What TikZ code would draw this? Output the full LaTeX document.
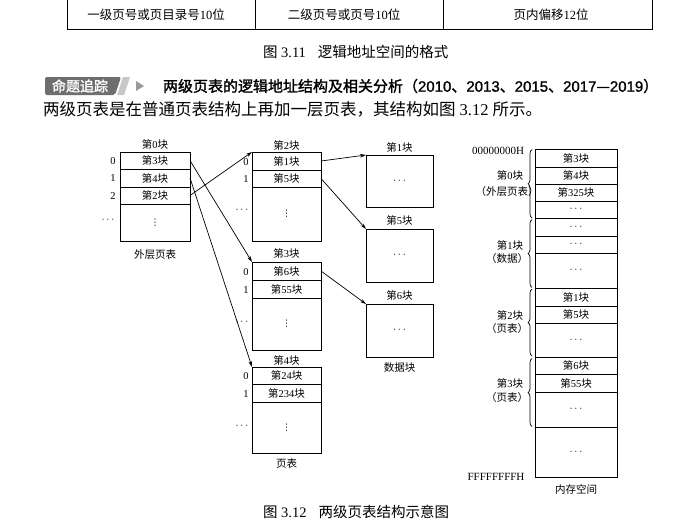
\documentclass[tikz,border=0pt]{standalone}
\usepackage{fontspec}
\setmainfont{Liberation Serif}
\newfontfamily\cjk{Noto Sans CJK SC}
\newfontfamily\cjkb{Noto Sans CJK SC}[FakeBold=1.6]
\newfontfamily\latsans{Liberation Sans}[FakeBold=1.2]
\newfontfamily\symf{DejaVu Sans}
\usetikzlibrary{arrows.meta,decorations.pathreplacing}
\newcommand\zh[1]{{\cjk #1}}
\newcommand\zhb[1]{{\cjkb #1}}
\newcommand\blk[1]{\zh{第}#1\zh{块}}
\newcommand\vdts{{\symf\fontsize{9}{10}\selectfont ⋮}}
\definecolor{badgegray}{HTML}{6E6E6E}
\definecolor{lightbar}{HTML}{C8C8C8}
\definecolor{trigray}{HTML}{9A9A9A}
\begin{document}
\begin{tikzpicture}[x=1pt,y=-1pt,
  every node/.style={inner sep=0pt,outer sep=0pt},
  lbl/.style={font=\fontsize{10.5}{12}\selectfont},
  cell/.style={draw,line width=0.75pt,lbl,anchor=center},
  idx/.style={font=\fontsize{10.5}{12}\selectfont},
  arr/.style={-{Stealth[length=6pt,width=3.6pt]},line width=0.7pt},
  brc/.style={decorate,decoration={brace,amplitude=4pt},line width=0.7pt},
  tline/.style={line width=0.9pt},
  tabtxt/.style={font=\fontsize{12.5}{14}\selectfont},
  figcap/.style={font=\fontsize{14.5}{16}\selectfont}]
\useasboundingbox[fill=white] (0,0) rectangle (692,528);

% ---------- top table (partial) ----------
\draw[tline] (67,0) -- (67,29) -- (652,29) -- (652,0);
\draw[tline] (255,0) -- (255,29);
\draw[tline] (443,0) -- (443,29);
\node[tabtxt] (t1) at (156,15) {\zh{一级页号或页目录号}10\zh{位}};
\node[tabtxt] (t2) at (344,15) {\zh{二级页号或页号}10\zh{位}};
\node[tabtxt] (t3) at (551,15) {\zh{页内偏移}12\zh{位}};
\node[figcap,anchor=west] (c1) at (263,52) {\zh{图} 3.11\hspace{12pt}\zh{逻辑地址空间的格式}};

% ---------- heading ----------
\fill[badgegray,rounded corners=2pt] (45,77) -- (121,77) -- (115,95) -- (45,95) -- cycle;
\node[font=\fontsize{14}{16}\selectfont,text=white] (badge) at (80,86) {\zhb{命题追踪}};
\fill[lightbar] (123,77) -- (130,77) -- (124,95) -- (117,95) -- cycle;
\fill[trigray] (136,81) -- (144,86) -- (136,91) -- cycle;
\node[font=\fontsize{15}{17}\selectfont,anchor=west] (head) at (163,86)
  {\zhb{两级页表的逻辑地址结构及相关分析（}\latsans 2010\zhb{、}2013\zhb{、}2015\zhb{、}2017\zhb{—}2019\zhb{）}};
\node[font=\fontsize{16.5}{18}\selectfont,anchor=west] (para) at (43,109)
  {\zh{两级页表是在普通页表结构上再加一层页表，其结构如图} 3.12 \zh{所示。}};

% ---------- outer page table ----------
\node[lbl] (h0) at (155,144) {\blk{0}};
\node[cell,minimum width=70pt,minimum height=17pt] (o0) at (155,160.5) {\blk{3}};
\node[cell,minimum width=70pt,minimum height=18pt] (o1) at (155,178) {\blk{4}};
\node[cell,minimum width=70pt,minimum height=17pt] (o2) at (155,195.5) {\blk{2}};
\node[cell,minimum width=70pt,minimum height=37pt] (o3) at (155,222.5) {\vdts};
\node[idx] (oi0) at (113,161) {0};
\node[idx] (oi1) at (113,178) {1};
\node[idx] (oi2) at (113,196) {2};
\node[idx] (oi3) at (108,220) {$\cdots$};
\node[lbl] (olab) at (155,255) {\zh{外层页表}};

% ---------- page table block 2 ----------
\node[lbl] (h2) at (286.5,145) {\blk{2}};
\node[cell,minimum width=69pt,minimum height=18pt] (a0) at (286.5,161) {\blk{1}};
\node[cell,minimum width=69pt,minimum height=17pt] (a1) at (286.5,178.5) {\blk{5}};
\node[cell,minimum width=69pt,minimum height=54pt] (a2) at (286.5,214) {\vdts};
\node[idx] (ai0) at (246,162) {0};
\node[idx] (ai1) at (246,179) {1};
\node[idx] (ai2) at (242,210) {$\cdots$};

% ---------- page table block 3 ----------
\node[lbl] (h3) at (286.5,253) {\blk{3}};
\node[cell,minimum width=69pt,minimum height=18pt] (b0) at (286.5,271) {\blk{6}};
\node[cell,minimum width=69pt,minimum height=18pt] (b1) at (286.5,289) {\blk{55}};
\node[cell,minimum width=69pt,minimum height=52pt] (b2) at (286.5,324) {\vdts};
\node[idx] (bi0) at (246,272) {0};
\node[idx] (bi1) at (246,290) {1};
\node[idx] (bi2) at (242,322) {$\cdots$};

% ---------- page table block 4 ----------
\node[lbl] (h4) at (286.5,360) {\blk{4}};
\node[cell,minimum width=69pt,minimum height=17pt] (c0) at (286.5,375.5) {\blk{24}};
\node[cell,minimum width=69pt,minimum height=18pt] (c1) at (286.5,393) {\blk{234}};
\node[cell,minimum width=69pt,minimum height=51pt] (c2) at (286.5,427.5) {\vdts};
\node[idx] (ci0) at (246,376) {0};
\node[idx] (ci1) at (246,394) {1};
\node[idx] (ci2) at (242,426) {$\cdots$};
\node[lbl] (plab) at (286.5,464) {\zh{页表}};

% ---------- data blocks ----------
\node[lbl] (hd1) at (399.5,147) {\blk{1}};
\node[cell,minimum width=67pt,minimum height=52pt] (d1) at (399.5,181) {$\cdots$};
\node[lbl] (hd5) at (399.5,220) {\blk{5}};
\node[cell,minimum width=67pt,minimum height=53pt] (d5) at (399.5,255.5) {$\cdots$};
\node[lbl] (hd6) at (399.5,295) {\blk{6}};
\node[cell,minimum width=67pt,minimum height=53pt] (d6) at (399.5,330.5) {$\cdots$};
\node[lbl] (dlab) at (399.5,368) {\zh{数据块}};

% ---------- memory column ----------
\node[cell,minimum width=82pt,minimum height=18pt] (m0) at (576,158) {\blk{3}};
\node[cell,minimum width=82pt,minimum height=17pt] (m1) at (576,175.5) {\blk{4}};
\node[cell,minimum width=82pt,minimum height=17pt] (m2) at (576,192.5) {\blk{325}};
\node[cell,minimum width=82pt,minimum height=17pt] (m3) at (576,209.5) {$\cdots$};
\node[cell,minimum width=82pt,minimum height=18pt] (m4) at (576,227) {$\cdots$};
\node[cell,minimum width=82pt,minimum height=17pt] (m5) at (576,244.5) {$\cdots$};
\node[cell,minimum width=82pt,minimum height=35pt] (m6) at (576,270.5) {$\cdots$};
\node[cell,minimum width=82pt,minimum height=18pt] (m7) at (576,297) {\blk{1}};
\node[cell,minimum width=82pt,minimum height=17pt] (m8) at (576,314.5) {\blk{5}};
\node[cell,minimum width=82pt,minimum height=34pt] (m9) at (576,340) {$\cdots$};
\node[cell,minimum width=82pt,minimum height=17pt] (m10) at (576,365.5) {\blk{6}};
\node[cell,minimum width=82pt,minimum height=18pt] (m11) at (576,383) {\blk{55}};
\node[cell,minimum width=82pt,minimum height=35pt] (m12) at (576,409.5) {$\cdots$};
\node[cell,minimum width=82pt,minimum height=50pt] (m13) at (576,452) {$\cdots$};
\node[lbl,font=\fontsize{11}{12}\selectfont] (addr0) at (498,151) {00000000H};
\node[lbl,font=\fontsize{11}{12}\selectfont] (addr1) at (496,477) {FFFFFFFFH};
\node[lbl] (mlab) at (576,489) {\zh{内存空间}};

% braces
\coordinate (br1a) at (532,218); \coordinate (br1b) at (532,149.5);
\coordinate (br2a) at (532,287.5); \coordinate (br2b) at (532,219.5);
\coordinate (br3a) at (532,356); \coordinate (br3b) at (532,289);
\coordinate (br4a) at (532,426.5); \coordinate (br4b) at (532,358.5);
\draw[brc] (br1a) -- (br1b);
\draw[brc] (br2a) -- (br2b);
\draw[brc] (br3a) -- (br3b);
\draw[brc] (br4a) -- (br4b);
\node[lbl] (g0a) at (510,175) {\blk{0}};
\node[lbl] (g0b) at (507,192) {\zh{（外层页表）}};
\node[lbl] (g1a) at (510,245) {\blk{1}};
\node[lbl] (g1b) at (507,259) {\zh{（数据）}};
\node[lbl] (g2a) at (510,315) {\blk{2}};
\node[lbl] (g2b) at (507,329) {\zh{（页表）}};
\node[lbl] (g3a) at (510,383) {\blk{3}};
\node[lbl] (g3b) at (507,397) {\zh{（页表）}};

% ---------- arrows ----------
\draw[arr] (o0.east) -- (b0.north west);
\draw[arr] (o1.east) -- (c0.north west);
\draw[arr] (o2.east) -- (a0.north west);
\draw[arr] (a0.east) -- (d1.north west);
\draw[arr] (a1.east) -- (d5.north west);
\draw[arr] (b0.east) -- (d6.north west);

% ---------- caption ----------
\node[figcap,anchor=west] (c2cap) at (263,512) {\zh{图} 3.12\hspace{12pt}\zh{两级页表结构示意图}};
\end{tikzpicture}
\end{document}
